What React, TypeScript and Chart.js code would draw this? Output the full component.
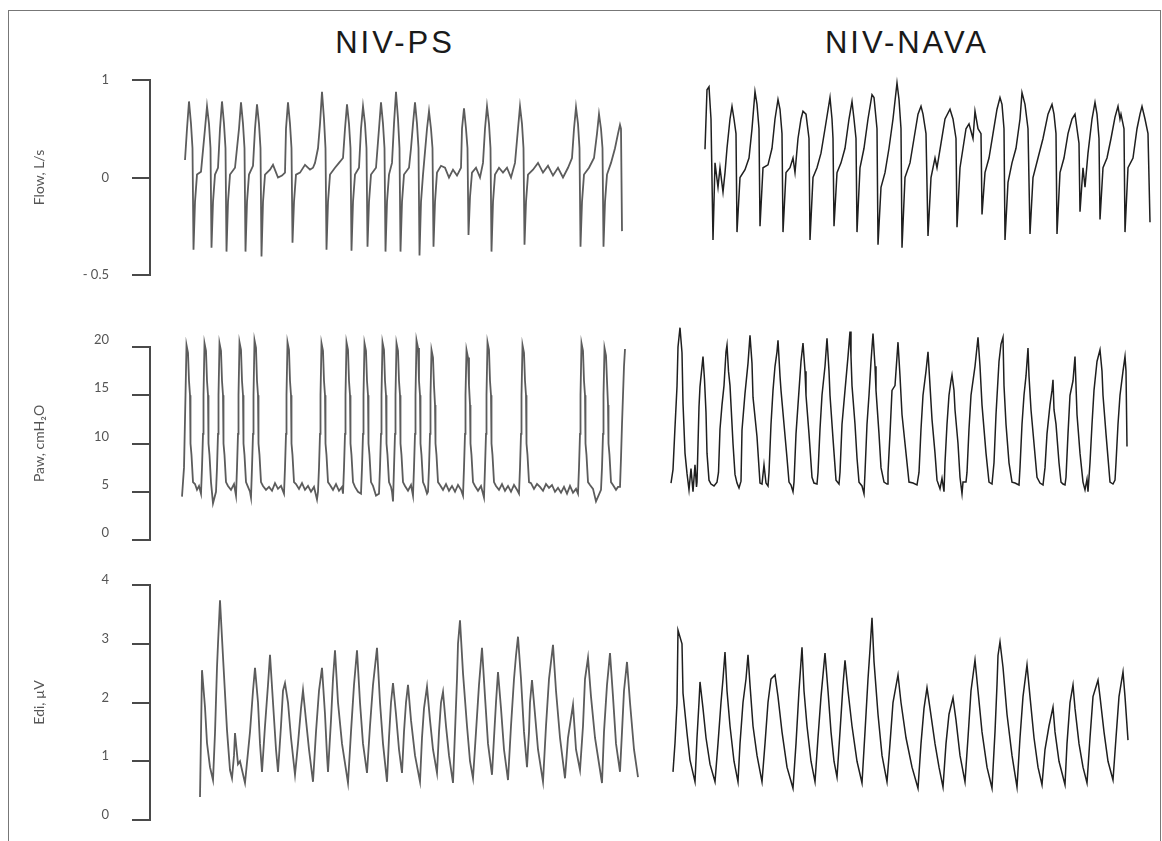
import React, { useEffect, useRef } from "react";
import { Chart, registerables } from "chart.js";

Chart.register(...registerables);

type Pt = [number, number];

// ---------- text ----------
const columnTitles = ["NIV-PS", "NIV-NAVA"];
const flowTitle = "Flow, L/s";
const pawTitle = "Paw, cmH₂O";
const ediTitle = "Edi, µV";

// ---------- tick labels ----------
const flowTickValues = [-1, 0, 1];
const flowTickLabels = ["- 0.5", "0", "1"];
const pawTickValues = [0, 5, 10, 15, 20];
const pawTickLabels = ["0", "5", "10", "15", "20"];
const ediTickValues = [0, 1, 2, 3, 4];
const ediTickLabels = ["0", "1", "2", "3", "4"];

// ---------- series: [time (s), value] ----------
const flowPs: Pt[] = [
  [0, 0.18], [0.2, 0.5], [0.4, 0.78], [0.6, 0.55], [0.75, 0.3], [0.85, -0.74], [1.0, -0.25], [1.2, 0.03],
  [1.6, 0.06], [2.0, 0.5], [2.2, 0.73], [2.4, 0.55], [2.55, 0.3], [2.65, -0.72], [2.8, -0.25], [3.0, 0.03],
  [3.3, 0.1], [3.5, 0.5], [3.7, 0.78], [3.9, 0.55], [4.05, 0.3], [4.15, -0.76], [4.3, -0.25], [4.5, 0.03],
  [5.0, 0.1], [5.4, 0.5], [5.6, 0.77], [5.8, 0.55], [5.95, 0.3], [6.05, -0.76], [6.2, -0.25], [6.4, 0.03],
  [6.8, 0.12], [7.0, 0.5], [7.2, 0.75], [7.4, 0.55], [7.55, 0.3], [7.65, -0.81], [7.8, -0.25], [8.0, 0.03],
  [8.5, 0.08], [8.8, 0.13], [9.3, 0.0], [9.7, 0.02], [10.0, 0.05],
  [10.1, 0.5], [10.3, 0.77], [10.5, 0.55], [10.65, 0.3], [10.75, -0.67], [10.9, -0.25], [11.1, 0.03],
  [11.5, 0.05], [12.0, 0.13], [12.5, 0.08], [12.8, 0.1], [13.0, 0.15], [13.3, 0.3],
  [13.5, 0.55], [13.7, 0.88], [13.9, 0.6], [14.05, 0.3], [14.15, -0.74], [14.3, -0.25], [14.5, 0.03],
  [15.0, 0.1], [15.4, 0.15], [15.8, 0.2],
  [16.0, 0.5], [16.2, 0.75], [16.4, 0.55], [16.55, 0.3], [16.65, -0.75], [16.8, -0.25], [17.0, 0.03],
  [17.4, 0.1], [17.6, 0.5], [17.8, 0.73], [18.0, 0.55], [18.15, 0.3], [18.25, -0.71], [18.4, -0.25], [18.6, 0.03],
  [19.1, 0.1], [19.4, 0.5], [19.6, 0.77], [19.8, 0.55], [19.95, 0.3], [20.05, -0.76], [20.2, -0.25], [20.4, 0.03],
  [20.7, 0.15], [20.9, 0.55], [21.1, 0.88], [21.3, 0.6], [21.45, 0.3], [21.55, -0.76], [21.7, -0.25], [21.9, 0.03],
  [22.4, 0.1], [22.6, 0.3], [22.8, 0.55], [23.0, 0.77], [23.2, 0.55], [23.35, 0.3], [23.45, -0.8], [23.6, -0.25], [23.8, 0.03],
  [24.2, 0.5], [24.4, 0.68], [24.6, 0.5], [24.75, 0.3], [24.85, -0.71], [25.0, -0.25], [25.2, 0.05],
  [25.6, 0.12], [26.0, 0.1], [26.4, 0.0], [26.8, 0.08], [27.2, 0.02], [27.6, 0.1],
  [27.7, 0.5], [27.9, 0.71], [28.1, 0.5], [28.25, 0.3], [28.35, -0.59], [28.5, -0.2], [28.7, 0.05],
  [29.1, 0.1], [29.5, 0.0], [29.8, 0.15],
  [30.0, 0.5], [30.2, 0.73], [30.4, 0.55], [30.55, 0.3], [30.65, -0.76], [30.8, -0.25], [31.0, 0.03],
  [31.4, 0.1], [31.8, 0.05], [32.2, 0.1], [32.6, 0.0], [33.0, 0.15],
  [33.3, 0.5], [33.5, 0.73], [33.7, 0.55], [33.85, 0.3], [33.95, -0.69], [34.1, -0.25], [34.3, 0.03],
  [34.8, 0.08], [35.3, 0.15], [35.8, 0.05], [36.3, 0.12], [36.8, 0.02], [37.3, 0.1], [37.8, 0.0], [38.3, 0.1], [38.7, 0.2],
  [38.9, 0.5], [39.1, 0.72], [39.3, 0.55], [39.45, 0.3], [39.55, -0.71], [39.7, -0.25], [39.9, 0.03],
  [40.4, 0.1], [40.9, 0.2], [41.2, 0.45], [41.4, 0.65], [41.6, 0.5], [41.75, 0.3], [41.85, -0.71], [42.0, -0.25], [42.2, 0.03],
  [42.6, 0.15], [43.0, 0.3], [43.3, 0.45], [43.5, 0.54], [43.6, 0.5], [43.7, -0.55],
];

const flowNava: Pt[] = [
  [0, 0.29], [0.2, 0.9], [0.4, 0.93], [0.6, 0.6], [0.8, -0.64], [1.0, 0.15], [1.3, -0.1], [1.5, 0.1], [1.8, -0.15], [2.0, 0.05],
  [2.2, 0.3], [2.5, 0.6], [2.7, 0.73], [2.9, 0.6], [3.1, 0.45], [3.2, -0.56], [3.5, 0.0], [4.0, 0.08], [4.4, 0.2], [4.7, 0.5],
  [5.0, 0.88], [5.2, 0.75], [5.4, 0.5], [5.5, -0.5], [5.8, 0.1], [6.3, 0.13], [6.7, 0.3], [7.0, 0.6], [7.3, 0.8], [7.5, 0.7],
  [7.7, 0.45], [7.8, -0.56], [8.1, 0.05], [8.5, 0.1], [8.8, 0.2], [9.0, 0.05], [9.3, 0.4], [9.6, 0.6], [9.8, 0.68], [10.1, 0.65],
  [10.4, 0.4], [10.5, -0.64], [10.8, 0.0], [11.2, 0.1], [11.6, 0.25], [12.0, 0.5], [12.5, 0.82], [12.7, 0.6], [12.8, 0.4], [12.9, -0.5],
  [13.2, 0.05], [13.6, 0.15], [14.0, 0.3], [14.4, 0.6], [14.7, 0.78], [14.9, 0.6], [15.1, 0.4], [15.2, -0.56], [15.5, 0.1], [15.9, 0.3],
  [16.3, 0.6], [16.7, 0.85], [16.9, 0.82], [17.2, 0.5], [17.3, -0.69], [17.6, -0.1], [18.0, 0.05], [18.4, 0.3], [18.8, 0.6], [19.2, 0.97],
  [19.4, 0.8], [19.6, 0.5], [19.7, -0.72], [20.0, 0.0], [20.5, 0.15], [20.9, 0.4], [21.3, 0.65], [21.6, 0.73], [21.8, 0.65], [22.1, 0.45],
  [22.3, -0.6], [22.6, 0.0], [23.0, 0.2], [23.2, 0.1], [23.6, 0.35], [24.0, 0.6], [24.5, 0.7], [24.8, 0.6], [25.1, 0.4], [25.2, -0.51],
  [25.5, 0.1], [25.8, 0.3], [26.1, 0.5], [26.4, 0.55], [26.8, 0.4], [27.0, 0.68], [27.3, 0.5], [27.6, 0.45], [27.7, -0.38], [28.0, 0.05],
  [28.4, 0.2], [28.8, 0.45], [29.2, 0.7], [29.5, 0.82], [29.7, 0.75], [29.9, 0.5], [30.0, -0.64], [30.3, -0.05], [30.7, 0.15], [31.1, 0.3],
  [31.5, 0.6], [31.7, 0.87], [32.0, 0.75], [32.3, 0.5], [32.5, -0.58], [32.8, 0.0], [33.3, 0.2], [33.8, 0.4], [34.3, 0.65], [34.7, 0.75],
  [34.9, 0.65], [35.1, 0.45], [35.2, -0.58], [35.5, 0.05], [35.9, 0.2], [36.3, 0.45], [36.7, 0.6], [37.0, 0.65], [37.2, 0.5], [37.4, 0.35],
  [37.5, -0.35], [37.8, 0.1], [38.0, -0.1], [38.3, 0.25], [38.7, 0.6], [39.0, 0.77], [39.2, 0.65], [39.4, 0.4], [39.5, -0.43], [39.8, 0.1],
  [40.2, 0.2], [40.6, 0.4], [41.0, 0.62], [41.3, 0.73], [41.5, 0.6], [41.6, 0.65], [41.9, 0.5], [42.0, -0.56], [42.3, 0.1], [42.8, 0.2],
  [43.2, 0.5], [43.5, 0.65], [43.7, 0.73], [44.0, 0.6], [44.3, 0.45], [44.5, -0.46],
];

const pawPs: Pt[] = [
  [0, 4.5], [0.2, 7.5], [0.35, 15], [0.45, 20.2], [0.6, 19.4], [0.7, 16.5], [0.8, 15], [0.85, 10], [0.95, 8.8], [1.1, 6], [1.3, 5.8], [1.5, 5.2], [1.7, 5.6],
  [1.9, 4.8], [2.0, 7.5], [2.1, 11], [2.15, 15], [2.25, 20.4], [2.4, 19.6], [2.5, 16.5], [2.6, 15], [2.65, 10], [2.75, 8.8], [2.9, 6], [3.1, 3.8],
  [3.4, 5.0], [3.5, 7.5], [3.6, 11], [3.65, 15], [3.75, 20.4], [3.9, 19.6], [4.0, 16.5], [4.1, 15], [4.15, 10], [4.25, 8.8], [4.4, 6], [4.6, 5.6], [4.9, 5.2], [5.2, 5.8],
  [5.4, 4.6], [5.5, 7.5], [5.6, 11], [5.65, 15], [5.75, 20.5], [5.9, 19.7], [6.0, 16.5], [6.1, 15], [6.15, 10], [6.25, 8.8], [6.4, 6], [6.6, 5.5], [6.8, 5.0],
  [6.9, 4.4], [7.0, 7.5], [7.1, 11], [7.15, 15], [7.25, 20.7], [7.4, 19.9], [7.5, 16.5], [7.6, 15], [7.65, 10], [7.75, 8.8], [7.9, 6], [8.1, 5.6], [8.4, 5.2], [8.7, 5.5], [9.0, 5.1], [9.3, 5.9], [9.6, 5.3], [9.9, 5.6],
  [10.2, 4.8], [10.3, 7.5], [10.4, 11], [10.45, 15], [10.55, 20.5], [10.7, 19.7], [10.8, 16.5], [10.9, 15], [10.95, 10], [11.05, 8.8], [11.2, 6], [11.4, 5.8], [11.7, 5.3], [12.0, 5.9], [12.3, 5.2], [12.6, 5.6], [12.9, 5.0], [13.2, 5.5], [13.5, 4.2],
  [13.6, 5.0], [13.7, 7.5], [13.8, 11], [13.85, 15], [13.95, 20.4], [14.1, 19.6], [14.2, 16.5], [14.3, 15], [14.35, 10], [14.45, 8.8], [14.6, 6], [14.8, 5.7], [15.1, 5.2], [15.4, 5.8], [15.7, 5.1], [16.0, 5.5],
  [16.1, 4.8], [16.2, 7.5], [16.3, 11], [16.35, 15], [16.45, 20.5], [16.6, 19.7], [16.7, 16.5], [16.8, 15], [16.85, 10], [16.95, 8.8], [17.1, 6], [17.3, 5.5], [17.6, 5.0],
  [17.9, 4.8], [18.0, 7.5], [18.1, 11], [18.15, 15], [18.25, 20.4], [18.4, 19.6], [18.5, 16.5], [18.6, 15], [18.65, 10], [18.75, 8.8], [18.9, 6], [19.1, 5.6], [19.4, 4.6],
  [19.7, 4.8], [19.8, 7.5], [19.9, 11], [19.95, 15], [20.05, 20.5], [20.2, 19.7], [20.3, 16.5], [20.4, 15], [20.45, 10], [20.55, 8.8], [20.7, 6], [20.9, 5.5], [21.0, 5.0],
  [21.1, 4.0], [21.2, 7.5], [21.3, 11], [21.35, 15], [21.45, 20.4], [21.6, 19.6], [21.7, 16.5], [21.8, 15], [21.85, 10], [21.95, 8.8], [22.1, 6], [22.3, 5.6], [22.6, 5.1], [22.9, 5.7],
  [23.1, 4.6], [23.2, 7.5], [23.3, 11], [23.35, 15], [23.45, 20.7], [23.6, 19.9], [23.7, 16.5], [23.8, 15], [23.85, 10], [23.95, 8.8], [24.1, 6], [24.3, 5.5], [24.5, 4.8],
  [24.6, 5.0], [24.7, 7.5], [24.8, 11], [24.85, 15], [24.95, 19.7], [25.1, 18.9], [25.2, 16], [25.3, 14], [25.35, 10], [25.45, 8.8], [25.6, 6], [25.8, 5.7], [26.1, 5.2], [26.4, 5.8], [26.7, 5.1], [27.0, 5.6], [27.3, 5.0], [27.6, 5.7], [27.9, 5.2],
  [28.1, 4.6], [28.2, 7.5], [28.3, 11], [28.35, 15], [28.45, 19.7], [28.6, 18.9], [28.7, 16], [28.8, 14], [28.85, 10], [28.95, 8.8], [29.1, 6], [29.3, 5.6], [29.6, 5.1], [29.9, 5.6],
  [30.2, 4.4], [30.3, 7.5], [30.4, 11], [30.45, 15], [30.55, 20.5], [30.7, 19.7], [30.8, 16.5], [30.9, 15], [30.95, 10], [31.05, 8.8], [31.2, 6], [31.4, 5.6], [31.7, 5.2], [32.0, 5.8], [32.3, 5.1], [32.6, 5.6], [32.9, 5.0], [33.2, 5.7], [33.5, 5.2],
  [33.7, 4.8], [33.8, 7.5], [33.9, 11], [33.95, 15], [34.05, 20.2], [34.2, 19.4], [34.3, 16.5], [34.4, 15], [34.45, 10], [34.55, 8.8], [34.7, 6], [34.9, 5.9], [35.2, 5.3], [35.5, 5.8], [35.8, 5.5], [36.1, 5.1], [36.4, 5.8], [36.7, 5.4], [37.0, 5.7], [37.3, 5.0], [37.6, 5.4], [37.9, 4.9], [38.2, 5.5], [38.5, 4.8], [38.8, 5.6], [39.1, 4.9], [39.4, 5.3],
  [39.6, 4.8], [39.7, 7.5], [39.8, 11], [39.85, 15], [39.95, 20.4], [40.1, 19.6], [40.2, 16.5], [40.3, 15], [40.35, 10], [40.45, 8.8], [40.6, 6], [40.8, 5.7], [41.1, 5.3], [41.4, 4.0],
  [41.9, 5.2], [42.0, 7.5], [42.1, 11], [42.15, 15], [42.25, 19.9], [42.4, 19.1], [42.5, 16.5], [42.6, 14], [42.65, 10], [42.75, 8.8], [42.9, 6], [43.1, 5.7], [43.4, 5.2], [43.6, 5.5],
  [43.8, 5.5], [43.9, 8.5], [44.0, 12], [44.1, 15], [44.2, 18], [44.3, 19.8],
];

const pawNava: Pt[] = [
  [0, 5.9], [0.2, 7.3], [0.4, 11.7], [0.6, 15.9], [0.7, 20], [0.9, 22.0], [1.1, 19.4], [1.2, 14.2], [1.4, 9.0], [1.6, 6.9], [1.8, 5.2], [2.0, 7.4], [2.2, 5.0], [2.4, 7.8], [2.55, 5.5],
  [2.6, 6.0], [2.8, 13.8], [2.9, 15.9], [3.2, 19.0], [3.35, 16.6], [3.5, 13.2], [3.6, 9.0], [3.8, 6.2], [4.0, 5.8], [4.3, 5.6], [4.6, 6.0],
  [4.75, 7], [4.9, 11.5], [5.1, 14], [5.3, 16], [5.5, 19.5], [5.6, 20.2], [5.75, 17.5], [5.9, 16], [6.0, 14], [6.2, 10], [6.4, 6.8], [6.6, 5.9], [6.8, 5.4], [7.0, 6.1],
  [7.1, 11.4], [7.4, 15.2], [7.7, 18.3], [7.9, 21.2], [8.1, 18.3], [8.2, 14.8], [8.6, 10.7], [8.9, 5.9], [9.1, 5.8], [9.3, 7.8], [9.5, 5.9], [9.7, 5.6],
  [9.8, 7], [10.0, 12], [10.2, 15.5], [10.4, 18], [10.6, 19.5], [10.7, 20.7], [10.9, 17], [11.0, 15.5], [11.3, 12], [11.6, 8.5], [11.8, 6.0], [12.0, 5.7], [12.2, 5.0],
  [12.3, 6], [12.5, 11], [12.8, 15.5], [13.0, 18.5], [13.2, 20.4], [13.4, 17.5], [13.5, 15], [13.8, 11], [14.1, 6.5], [14.3, 5.9], [14.6, 5.8],
  [14.7, 7], [14.9, 11.5], [15.1, 15], [15.4, 18], [15.6, 20.9], [15.8, 17.5], [15.9, 15], [16.2, 10.5], [16.5, 6.2], [16.8, 5.8],
  [16.9, 7], [17.1, 12], [17.4, 15.5], [17.7, 19], [17.9, 21.6], [18.0, 19], [18.1, 16], [18.4, 12], [18.6, 8.5], [18.8, 6], [19.1, 5.6], [19.3, 4.8],
  [19.4, 7], [19.6, 12], [19.8, 15], [20.0, 18.5], [20.2, 21.4], [20.4, 18], [20.5, 15.5], [20.8, 11], [21.0, 7.5], [21.3, 6.0], [21.6, 5.8],
  [21.7, 7], [21.9, 11], [22.1, 15.5], [22.4, 16], [22.6, 19], [22.7, 20.5], [22.9, 17], [23.1, 13], [23.5, 9], [23.8, 6.0], [24.2, 5.9], [24.6, 5.7],
  [24.8, 7], [25.0, 11.5], [25.2, 15], [25.5, 17.5], [25.7, 19.5], [25.9, 16], [26.1, 12.5], [26.4, 9], [26.6, 6.2], [26.9, 5.3], [27.1, 6.4], [27.3, 5.0],
  [27.4, 8], [27.6, 12], [27.8, 15], [28.0, 16.5], [28.1, 17.1], [28.3, 15.5], [28.4, 13.5], [28.7, 10], [28.9, 6.5], [29.1, 4.8], [29.2, 6], [29.5, 6.0],
  [29.6, 7], [29.8, 11.5], [30.0, 15], [30.4, 18], [30.6, 20], [30.7, 21.0], [30.9, 18], [31.1, 14], [31.5, 9], [31.8, 6], [32.1, 5.8],
  [32.3, 8], [32.5, 13], [32.8, 18.5], [33.0, 20.3], [33.2, 21.0], [33.3, 16], [33.5, 12], [33.8, 8], [34.1, 6], [34.4, 5.9], [34.8, 5.7],
  [34.9, 7.5], [35.1, 12], [35.3, 15], [35.5, 17], [35.7, 19.9], [35.8, 17], [36.0, 13.5], [36.3, 10], [36.6, 6.5], [36.9, 5.9], [37.2, 5.7],
  [37.4, 7.5], [37.6, 11], [37.9, 14], [38.1, 15.5], [38.2, 16.6], [38.3, 13.5], [38.5, 12], [38.8, 8], [39.0, 6], [39.2, 5.8], [39.4, 5.7],
  [39.5, 6.5], [39.7, 11], [39.9, 15], [40.2, 16.5], [40.4, 19.0], [40.5, 16], [40.6, 13], [40.9, 9], [41.2, 6], [41.4, 5.2], [41.6, 6.3], [41.7, 5.0],
  [41.9, 8], [42.1, 12], [42.3, 15.5], [42.6, 18.5], [42.9, 19.7], [43.1, 17.5], [43.2, 15], [43.5, 11], [43.9, 6], [44.2, 5.8], [44.4, 6.2],
  [44.5, 8], [44.7, 12], [44.9, 15], [45.2, 17.5], [45.4, 19.0], [45.5, 17.5], [45.6, 9.7],
];

const ediPs: Pt[] = [
  [0, 0.39], [0.2, 2.55], [0.5, 1.92], [0.7, 1.31], [1.0, 0.9], [1.3, 0.68],
  [1.5, 1.48], [1.7, 2.6], [1.8, 3.0], [2.0, 3.74], [2.3, 2.78], [2.7, 1.53], [3.0, 0.85], [3.2, 0.71],
  [3.4, 1.1], [3.5, 1.48], [3.8, 0.95], [4.0, 1.0], [4.5, 0.63],
  [5.0, 1.5], [5.3, 2.2], [5.5, 2.59], [5.8, 2.0], [6.0, 1.3], [6.2, 0.82],
  [6.5, 1.6], [6.8, 2.3], [7.0, 2.81], [7.3, 2.0], [7.6, 1.2], [7.8, 0.82],
  [8.1, 1.6], [8.3, 2.2], [8.5, 2.33], [8.8, 2.0], [9.1, 1.4], [9.5, 0.77],
  [9.8, 1.3], [10.1, 1.9], [10.3, 2.21], [10.6, 1.7], [10.9, 1.2], [11.3, 0.65],
  [11.6, 1.5], [11.9, 2.2], [12.2, 2.59], [12.5, 1.8], [12.7, 1.1], [12.8, 0.82],
  [13.1, 1.7], [13.3, 2.4], [13.5, 2.89], [13.8, 2.0], [14.2, 1.3], [14.8, 0.63],
  [15.1, 1.5], [15.4, 2.3], [15.7, 2.89], [16.0, 2.0], [16.3, 1.3], [16.7, 0.8],
  [17.0, 1.6], [17.3, 2.3], [17.7, 2.93], [18.0, 2.0], [18.3, 1.3], [18.7, 0.65],
  [18.9, 1.4], [19.1, 2.0], [19.3, 2.33], [19.6, 1.8], [19.9, 1.2], [20.2, 0.8],
  [20.4, 1.5], [20.6, 2.0], [20.8, 2.3], [21.1, 1.7], [21.5, 1.1], [22.0, 0.65],
  [22.2, 1.4], [22.4, 1.9], [22.7, 2.27], [23.0, 1.7], [23.3, 1.2], [23.7, 0.8],
  [23.9, 1.5], [24.1, 2.0], [24.3, 2.18], [24.6, 1.6], [24.9, 1.1], [25.3, 0.63],
  [25.5, 1.5], [25.7, 2.4], [25.8, 3.0], [26.0, 3.4], [26.3, 2.5], [26.7, 1.6], [27.0, 1.0], [27.3, 0.71],
  [27.6, 1.5], [27.9, 2.3], [28.2, 2.93], [28.5, 2.1], [28.8, 1.3], [29.2, 0.77],
  [29.4, 1.4], [29.6, 2.0], [29.8, 2.52], [30.1, 1.9], [30.4, 1.2], [30.8, 0.68],
  [31.1, 1.6], [31.4, 2.4], [31.6, 2.8], [31.8, 3.12], [32.1, 2.4], [32.4, 1.5], [32.7, 0.9],
  [32.9, 1.5], [33.0, 2.0], [33.2, 2.38], [33.5, 1.8], [33.8, 1.2], [34.3, 0.65],
  [34.6, 1.6], [34.9, 2.4], [35.3, 2.98], [35.6, 2.2], [36.0, 1.4], [36.5, 0.71],
  [36.8, 1.4], [37.3, 1.96], [37.6, 1.2], [38.0, 0.85],
  [38.3, 1.6], [38.5, 2.4], [38.8, 2.76], [39.1, 2.1], [39.5, 1.4], [40.2, 0.63],
  [40.4, 1.5], [40.7, 2.3], [41.0, 2.84], [41.3, 2.1], [41.6, 1.3], [42.0, 0.82],
  [42.2, 1.5], [42.4, 2.2], [42.7, 2.69], [43.0, 2.0], [43.4, 1.2], [43.8, 0.73],
];

const ediNava: Pt[] = [
  [0, 0.82], [0.2, 1.31], [0.4, 1.99], [0.5, 3.23], [0.9, 3.0], [1.0, 2.16], [1.4, 1.48], [1.7, 1.02], [2.2, 0.65],
  [2.4, 1.4], [2.6, 2.0], [2.7, 2.35], [3.0, 1.9], [3.3, 1.4], [3.7, 0.95], [4.2, 0.65],
  [4.5, 1.3], [4.8, 2.0], [5.0, 2.4], [5.2, 2.86], [5.4, 2.2], [5.7, 1.6], [6.1, 1.0], [6.5, 0.65],
  [6.7, 1.3], [7.0, 2.0], [7.3, 2.4], [7.5, 2.81], [7.7, 2.3], [8.0, 1.6], [8.4, 1.1], [8.9, 0.65],
  [9.2, 1.3], [9.5, 2.0], [9.8, 2.4], [10.2, 2.47], [10.5, 2.1], [10.9, 1.5], [11.4, 0.9], [12.0, 0.54],
  [12.3, 1.3], [12.6, 2.2], [12.9, 2.94], [13.1, 2.2], [13.4, 1.6], [13.8, 1.0], [14.2, 0.65],
  [14.5, 1.4], [14.8, 2.1], [15.2, 2.84], [15.5, 2.2], [15.8, 1.5], [16.1, 1.0], [16.4, 0.73],
  [16.7, 1.5], [17.0, 2.3], [17.2, 2.72], [17.5, 2.2], [17.9, 1.6], [18.4, 1.0], [18.9, 0.63],
  [19.2, 1.5], [19.5, 2.4], [19.7, 2.9], [19.9, 3.44], [20.1, 2.7], [20.5, 1.8], [20.9, 1.1], [21.4, 0.65],
  [21.7, 1.3], [22.0, 2.0], [22.5, 2.47], [22.8, 2.0], [23.3, 1.4], [23.9, 0.9], [24.5, 0.54],
  [24.8, 1.3], [25.1, 1.9], [25.4, 2.25], [25.7, 1.9], [26.2, 1.3], [26.6, 0.9], [27.0, 0.56],
  [27.3, 1.3], [27.6, 1.8], [28.0, 2.08], [28.3, 1.7], [28.7, 1.1], [29.2, 0.65],
  [29.5, 1.4], [29.8, 2.2], [30.2, 2.72], [30.5, 2.2], [30.9, 1.5], [31.4, 0.9], [31.9, 0.54],
  [32.2, 1.5], [32.4, 2.3], [32.5, 2.8], [32.7, 3.03], [33.0, 2.6], [33.4, 1.8], [33.9, 1.1], [34.4, 0.56],
  [34.7, 1.4], [35.0, 2.1], [35.4, 2.64], [35.7, 2.1], [36.1, 1.4], [36.5, 0.9], [36.9, 0.6],
  [37.2, 1.2], [37.6, 1.6], [38.0, 1.92], [38.2, 1.5], [38.6, 1.0], [39.2, 0.6],
  [39.4, 1.3], [39.7, 2.0], [40.0, 2.3], [40.2, 1.9], [40.6, 1.3], [41.0, 0.9], [41.4, 0.63],
  [41.7, 1.4], [42.0, 2.1], [42.5, 2.38], [42.7, 2.1], [43.1, 1.5], [43.5, 1.0], [44.0, 0.68],
  [44.3, 1.4], [44.6, 2.1], [45.0, 2.52], [45.2, 2.1], [45.5, 1.36],
];

// ---------- layout / style ----------
const X_MAX = 100.5; // seconds across the plot width
const LEFT_COLOR = "#5c5c5c";
const RIGHT_COLOR = "#1f1f1f";
const AXIS_COLOR = "#4a4a4a";

type RowCfg = {
  series: Pt[][];
  offsets: number[];
  min: number;
  max: number;
  tickValues: number[];
  tickLabels: string[];
  title: string;
  top: number;
  height: number;
  padTop: number;
  padBottom: number;
  labelOffset: number;
};

const rows: RowCfg[] = [
  {
    series: [flowPs, flowNava], offsets: [3.5, 55.5], min: -1, max: 1,
    tickValues: flowTickValues, tickLabels: flowTickLabels, title: flowTitle,
    top: 60, height: 230, padTop: 20, padBottom: 15, labelOffset: 0,
  },
  {
    series: [pawPs, pawNava], offsets: [3.2, 52.1], min: 0, max: 20,
    tickValues: pawTickValues, tickLabels: pawTickLabels, title: pawTitle,
    top: 320, height: 240, padTop: 27, padBottom: 20, labelOffset: -7,
  },
  {
    series: [ediPs, ediNava], offsets: [5.0, 52.3], min: 0, max: 4,
    tickValues: ediTickValues, tickLabels: ediTickLabels, title: ediTitle,
    top: 565, height: 270, padTop: 20, padBottom: 15, labelOffset: -5,
  },
];

function RowChart({ row }: { row: RowCfg }) {
  const ref = useRef<HTMLCanvasElement | null>(null);
  useEffect(() => {
    if (!ref.current) return;
    const chart = new Chart(ref.current, {
      type: "line",
      data: {
        datasets: row.series.map((pts, i) => ({
          data: pts.map(([t, v]) => ({ x: t + row.offsets[i], y: v })),
          borderColor: i === 0 ? LEFT_COLOR : RIGHT_COLOR,
          borderWidth: i === 0 ? 1.8 : 1.5,
          pointRadius: 0,
          tension: 0,
          fill: false,
          clip: false as any,
        })),
      },
      options: {
        animation: false,
        responsive: false,
        events: [],
        layout: { padding: { left: 20, right: 7, top: row.padTop, bottom: row.padBottom } },
        plugins: { legend: { display: false }, tooltip: { enabled: false }, title: { display: false } },
        scales: {
          x: { type: "linear", display: false, min: 0, max: X_MAX },
          y: {
            type: "linear",
            min: row.min,
            max: row.max,
            afterFit: (s: any) => {
              s.width = 130;
              s.paddingTop = 0;
              s.paddingBottom = 0;
            },
            afterBuildTicks: (s: any) => { s.ticks = row.tickValues.map((v) => ({ value: v })); },
            ticks: {
              callback: (_v: any, i: number) => row.tickLabels[i],
              color: "#555",
              font: { family: "Lato", size: 13 },
              padding: 23,
              labelOffset: row.labelOffset,
            },
            grid: { drawOnChartArea: false, drawTicks: true, tickLength: 18, color: AXIS_COLOR, lineWidth: 2 },
            border: { display: true, color: AXIS_COLOR, width: 2 },
            title: {
              display: true,
              text: row.title,
              color: "#555",
              font: { family: "Lato", size: 14 },
              padding: { top: 10.6, bottom: 0 },
            },
          },
        },
      } as any,
    });
    return () => chart.destroy();
  }, [row]);
  return (
    <canvas
      ref={ref}
      width={1162}
      height={row.height}
      style={{ position: "absolute", left: 0, top: row.top, width: 1162, height: row.height }}
    />
  );
}

const titleStyle: React.CSSProperties = {
  position: "absolute",
  top: 28,
  fontFamily: "'Liberation Sans', Arial, sans-serif",
  fontSize: 31,
  lineHeight: "30px",
  letterSpacing: 3,
  color: "#1a1a1a",
  transform: "translateX(-50%)",
  whiteSpace: "nowrap",
};

export default function App() {
  return (
    <div style={{ position: "fixed", left: 0, top: 0, width: 1162, height: 841, overflow: "hidden", background: "#fff" }}>
      <div style={{ position: "absolute", left: 8, top: 10, width: 1151, height: 860, border: "1px solid #777" }} />
      <div style={{ ...titleStyle, left: 395 }}>{columnTitles[0]}</div>
      <div style={{ ...titleStyle, left: 907 }}>{columnTitles[1]}</div>
      {rows.map((r, i) => (
        <RowChart key={i} row={r} />
      ))}
    </div>
  );
}
